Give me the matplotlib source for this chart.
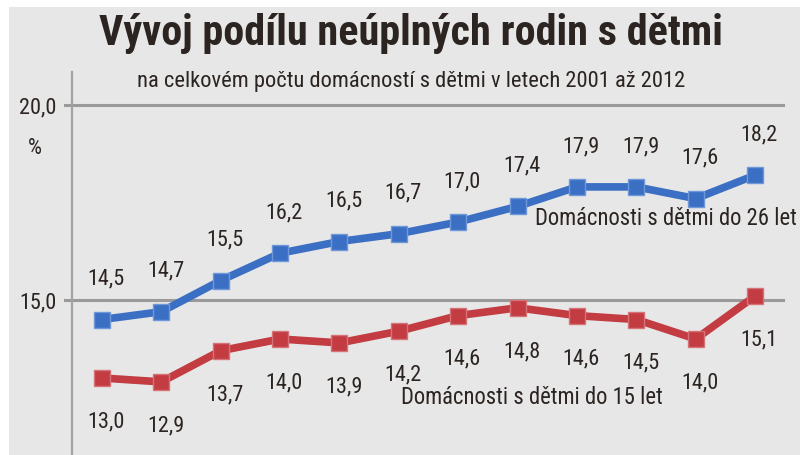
import matplotlib
matplotlib.use("Agg")
import matplotlib.pyplot as plt
from matplotlib.patches import Rectangle

# condensed font, with fallbacks
plt.rcParams['font.family'] = ['Roboto Condensed', 'Liberation Sans Narrow', 'DejaVu Sans']

# data
years = list(range(2001, 2013))
do26 = [14.5, 14.7, 15.5, 16.2, 16.5, 16.7, 17.0, 17.4, 17.9, 17.9, 17.6, 18.2]
do15 = [13.0, 12.9, 13.7, 14.0, 13.9, 14.2, 14.6, 14.8, 14.6, 14.5, 14.0, 15.1]
ytick_vals = [15, 20]
ytick_txt = ['15,0', '20,0']

blue = '#3b6fc4'
red = '#c23c42'
txt = '#2b2421'
bg = '#e7e7e7'

fig = plt.figure(figsize=(8.02, 4.55), dpi=100)
fig.patches.append(Rectangle((9 / 802, 0), 791 / 802, 448 / 455, transform=fig.transFigure,
                             facecolor=bg, edgecolor='none', zorder=-5))

# axes placed so that 20 -> y=105px, 15 -> y=300px
ax = fig.add_axes([72 / 802, 0, 730 / 802, 383 / 455])
ax.set_facecolor('none')
ax.set_ylim(15 - 155 / 39, 20 + 33 / 39)
ax.set_xlim(2001 - 30 / 59.4, 2012 + 47 / 59.4)

for s in ['top', 'right', 'bottom']:
    ax.spines[s].set_visible(False)
ax.spines['left'].set_color('#a3a3a3')
ax.spines['left'].set_linewidth(1.6)
ax.set_xticks([])
ax.set_yticks(ytick_vals)
ax.set_yticklabels(ytick_txt, fontsize=16, color=txt)
ax.tick_params(axis='y', length=0, pad=11)

for v in ytick_vals:
    ax.axhline(v, xmin=-7 / 730, xmax=711 / 730, color='#9a9a9a', lw=2.2, clip_on=False, zorder=1)

ax.plot(years, do26, color=blue, lw=5.5, marker='s', ms=11.5, mfc=blue, mec='#6e98d8', mew=1, zorder=3)
ax.plot(years, do15, color=red, lw=5.5, marker='s', ms=11.5, mfc=red, mec='#d67378', mew=1, zorder=3)

for x, v in zip(years, do26):
    ax.annotate(f'{v:.1f}'.replace('.', ','), (x, v), xytext=(3, 29), textcoords='offset points',
                ha='center', va='center', fontsize=16, color=txt)
for x, v in zip(years, do15):
    ax.annotate(f'{v:.1f}'.replace('.', ','), (x, v), xytext=(3, -31.5), textcoords='offset points',
                ha='center', va='center', fontsize=16, color=txt)

fig.text(797 / 802, 1 - 218 / 455, 'Domácnosti s dětmi do 26 let', ha='right', va='center',
         fontsize=16.3, color=txt)
fig.text(532 / 802, 1 - 398 / 455, 'Domácnosti s dětmi do 15 let', ha='center', va='center',
         fontsize=16.3, color=txt)

fig.text(35 / 802, 1 - 148 / 455, '%', ha='center', va='center', fontsize=16, color=txt)

fig.text(411 / 802, 1 - 45 / 455, 'Vývoj podílu neúplných rodin s dětmi', ha='center', va='baseline',
         fontsize=30.4, fontweight='bold', color=txt)
fig.text(411 / 802, 1 - 87 / 455, 'na celkovém počtu domácností s dětmi v letech 2001 až 2012',
         ha='center', va='baseline', fontsize=16.2, color=txt)

fig.savefig('out.png', dpi=100, facecolor='white')
